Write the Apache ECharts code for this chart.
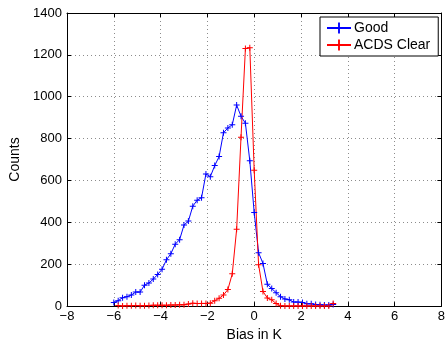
<!DOCTYPE html>
<html>
<head>
<meta charset="utf-8">
<script src="https://cdn.jsdelivr.net/npm/echarts@6/dist/echarts.min.js"></script>
<style>html,body{margin:0;padding:0;background:#fff}#c{width:448px;height:347px}</style>
</head>
<body>
<div id="c"></div>
<script>
var biasK = [-6, -5.8125, -5.625, -5.4375, -5.25, -5.0625, -4.875, -4.6875, -4.5, -4.3125, -4.125, -3.9375, -3.75, -3.5625, -3.375, -3.1875, -3, -2.8125, -2.625, -2.4375, -2.25, -2.0625, -1.875, -1.6875, -1.5, -1.3125, -1.125, -0.9375, -0.75, -0.5625, -0.375, -0.1875, 0, 0.1875, 0.375, 0.5625, 0.75, 0.9375, 1.125, 1.3125, 1.5, 1.6875, 1.875, 2.0625, 2.25, 2.4375, 2.625, 2.8125, 3, 3.1875, 3.375];
var goodCounts = [17, 26, 40, 45, 53, 67, 67, 100, 110, 129, 151, 176, 221, 250, 296, 317, 387, 406, 477, 506, 518, 631, 618, 671, 714, 828, 851, 866, 960, 907, 873, 694, 447, 255, 204, 104, 84, 64, 45, 34, 30, 19, 19, 17, 11, 11, 8, 6, 5, 5, 8];
var acdsCounts = [null, 3, 1, 2, 2, 3, 2, 2, 3, 4, 4, 4, 4, 5, 5, 6, 6, 10, 14, 12, 13, 13, 14, 26, 37, 53, 79, 154, 367, 807, 1230, 1234, 649, 198, 70, 39, 30, 12, 2, 1, 1, 1, 1, 1, 1, 1, 1, 1, 1, 1, 12];
var xTicks = {min: -8, max: 8, interval: 2};
var yTicks = {min: 0, max: 1400, interval: 200};

function pairs(ys) {
  var out = [];
  for (var i = 0; i < biasK.length; i++) out.push([biasK[i], ys[i]]);
  return out;
}
var plus = 'path://M-0.5,-3H0.5V-0.5H3V0.5H0.5V3H-0.5V0.5H-3V-0.5H-0.5Z';
var font = 'Liberation Sans';
var minusFmt = function (v) { return String(v).replace('-', '\u2212'); };
var plainFmt = function (v) { return String(v); };
var gridLine = {show: true, lineStyle: {color: '#8c8c8c', type: [1, 3], width: 1}};
var axLine = {show: true, onZero: false, lineStyle: {color: '#000', width: 1}};
var tick = {show: true, inside: true, length: 4, lineStyle: {color: '#000'}};

var chart = echarts.init(document.getElementById('c'), null, {renderer: 'canvas'});
chart.setOption({
  animation: false,
  backgroundColor: '#fff',
  grid: {left: 63, top: 13, right: 4, bottom: 34, containLabel: false},
  legend: {
    orient: 'vertical', left: 320, top: 17,
    backgroundColor: '#fff', borderColor: '#000', borderWidth: 1,
    padding: [4, 8, 4, 6], itemGap: 3, itemWidth: 24, itemHeight: 14,
    textStyle: {fontFamily: font, fontSize: 14, color: '#000', padding: [0, 0, 0, -2]},
    data: ['Good', 'ACDS Clear']
  },
  xAxis: [{
    type: 'value', min: xTicks.min, max: xTicks.max, interval: xTicks.interval,
    name: 'Bias in K', nameLocation: 'middle', nameGap: 21,
    nameTextStyle: {fontFamily: font, fontSize: 14, color: '#000', verticalAlign: 'top'},
    axisLine: axLine, axisTick: tick, splitLine: gridLine,
    axisLabel: {fontFamily: font, fontSize: 13, color: '#000', margin: 4, formatter: minusFmt}
  }, {
    type: 'value', position: 'top', min: xTicks.min, max: xTicks.max, interval: xTicks.interval,
    axisLine: axLine, axisTick: tick, splitLine: {show: false}, axisLabel: {show: false}
  }],
  yAxis: [{
    type: 'value', min: yTicks.min, max: yTicks.max, interval: yTicks.interval,
    name: 'Counts', nameLocation: 'middle', nameGap: 45,
    nameTextStyle: {fontFamily: font, fontSize: 14, color: '#000'},
    axisLine: axLine, axisTick: tick, splitLine: gridLine,
    axisLabel: {fontFamily: font, fontSize: 13, color: '#000', margin: 5, formatter: plainFmt}
  }, {
    type: 'value', position: 'right', min: yTicks.min, max: yTicks.max, interval: yTicks.interval,
    axisLine: axLine, axisTick: tick, splitLine: {show: false}, axisLabel: {show: false}
  }],
  series: [{
    name: 'Good', type: 'line', data: pairs(goodCounts),
    symbol: plus, symbolSize: 6, showSymbol: true,
    lineStyle: {color: '#0000ff', width: 1},
    itemStyle: {color: '#0000ff'}
  }, {
    name: 'ACDS Clear', type: 'line', data: pairs(acdsCounts),
    symbol: plus, symbolSize: 6, showSymbol: true,
    lineStyle: {color: '#ff0000', width: 1},
    itemStyle: {color: '#ff0000'}
  }]
});
</script>
</body>
</html>
